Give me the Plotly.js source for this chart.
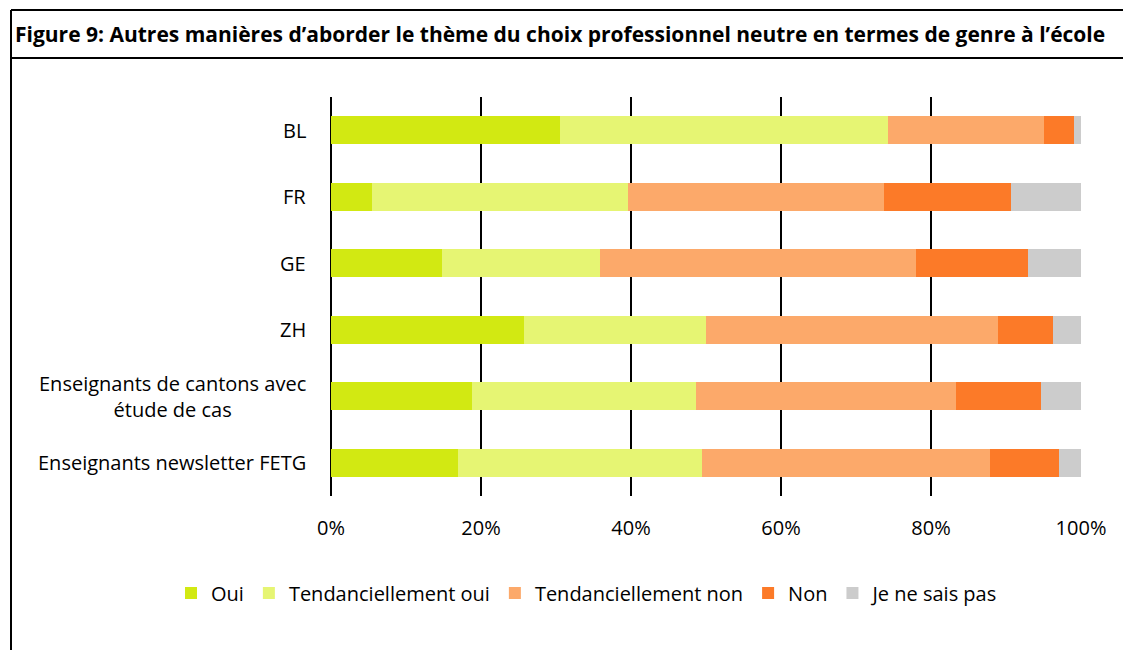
<!DOCTYPE html>
<html>
<head>
<meta charset="utf-8">
<script src="https://cdn.plot.ly/plotly-3.0.1.min.js"></script>
<style>
  html, body { margin: 0; padding: 0; background: #fff; }
  #chart { width: 1123px; height: 650px; }
</style>
</head>
<body>
<div id="chart"></div>
<script>
// ---- data ----
const categories = ["BL", "FR", "GE", "ZH", "Enseignants de cantons avec<br>étude de cas", "Enseignants newsletter FETG"];
const seriesNames = ["Oui", "Tendanciellement oui", "Tendanciellement non", "Non", "Je ne sais pas"];
const oui        = [30.5,  5.4, 14.8, 25.7, 18.8, 16.9];
const tendOui    = [43.8, 34.2, 21.1, 24.3, 29.9, 32.6];
const tendNon    = [20.8, 34.1, 42.1, 38.9, 34.6, 38.4];
const non        = [ 3.9, 17.0, 14.9,  7.4, 11.4,  9.2];
const neSaisPas  = [ 1.0,  9.3,  7.1,  3.7,  5.3,  2.9];
const tickVals   = [0, 20, 40, 60, 80, 100];
const tickLabels = ["0%", "20%", "40%", "60%", "80%", "100%"];
const titleText  = "Figure 9: Autres manières d’aborder le thème du choix professionnel neutre en termes de genre à l’école";

// ---- styles ----
const colors = ["#D2E912", "#E6F573", "#FCA96A", "#FC7A28", "#CCCCCC"];
const values = [oui, tendOui, tendNon, non, neSaisPas];
const FONT = "'Open Sans', Lato, sans-serif";

const W = 1123, H = 650;
const M = { l: 331, r: 42, t: 97, b: 154 };
const pw = W - M.l - M.r, ph = H - M.t - M.b;
const px = x => (x - M.l) / pw;
const py = y => (H - M.b - y) / ph;

const traces = seriesNames.map((name, i) => ({
  type: "bar",
  orientation: "h",
  name: name,
  y: categories,
  x: values[i],
  marker: { color: colors[i], line: { width: 0 } },
  hoverinfo: "x+name"
}));

const annotations = categories.map(c => ({
  xref: "paper", yref: "y",
  x: 0, y: c, xshift: -23,
  xanchor: "right", yanchor: "middle",
  align: "center",
  text: c,
  showarrow: false,
  font: { family: FONT, size: 20, color: "#000" }
}));
annotations.push({
  xref: "paper", yref: "paper",
  x: px(13), y: py(34),
  xanchor: "left", yanchor: "middle",
  text: "<b>" + titleText + "</b>",
  showarrow: false,
  font: { family: FONT, size: 21, color: "#000" }
});

const lineStyle = { color: "#000", width: 2 };
const shapes = [
  { type: "line", xref: "paper", yref: "paper", x0: px(11), x1: px(1125), y0: py(10), y1: py(10), line: lineStyle },
  { type: "line", xref: "paper", yref: "paper", x0: px(11), x1: px(1125), y0: py(58), y1: py(58), line: lineStyle },
  { type: "line", xref: "paper", yref: "paper", x0: px(11), x1: px(11), y0: py(10), y1: py(652), line: lineStyle }
];

const layout = {
  width: W, height: H,
  margin: M,
  paper_bgcolor: "#fff", plot_bgcolor: "#fff",
  barmode: "stack",
  bargap: 0.58,
  showlegend: true,
  legend: {
    orientation: "h",
    xref: "paper", yref: "paper",
    x: px(171), xanchor: "left",
    y: py(593), yanchor: "middle",
    font: { family: FONT, size: 20, color: "#000" },
    itemwidth: 30,
    traceorder: "normal"
  },
  xaxis: {
    range: [0, 100],
    tickvals: tickVals,
    ticktext: tickLabels,
    showgrid: true, gridcolor: "#000", gridwidth: 2,
    zeroline: true, zerolinecolor: "#000", zerolinewidth: 2,
    showline: false,
    ticks: "",
    ticklabelstandoff: 18,
    tickfont: { family: FONT, size: 20, color: "#000" },
    fixedrange: true
  },
  yaxis: {
    type: "category",
    range: [5.5, -0.5],
    showticklabels: false,
    showgrid: false, zeroline: false, showline: false,
    ticks: "",
    fixedrange: true
  },
  annotations: annotations,
  shapes: shapes
};

Plotly.newPlot("chart", traces, layout, { displayModeBar: false, staticPlot: true });
</script>
</body>
</html>
